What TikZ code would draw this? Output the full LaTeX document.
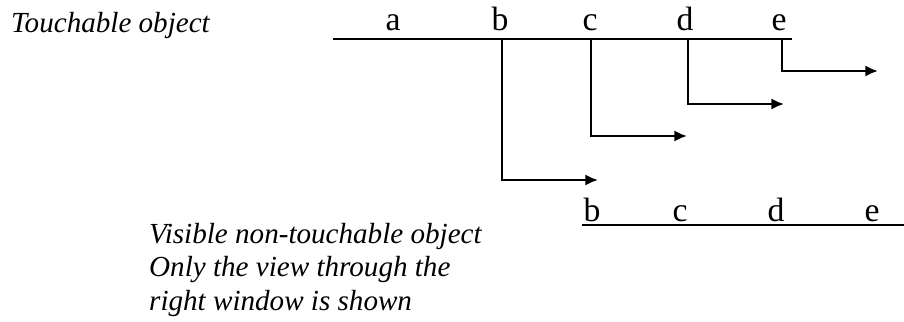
\documentclass[tikz,border=0pt]{standalone}
\usepackage{fontspec}
\setmainfont{Liberation Serif}
\usetikzlibrary{arrows.meta}

\begin{document}
\begin{tikzpicture}[x=0.025cm, y=-0.025cm, >={Latex[length=9pt, width=8pt]}, line width=1.7pt,
    every node/.style={font=\fontsize{24}{28}\selectfont, inner sep=0pt},
    caption/.style={font=\fontsize{20.7}{23.8}\selectfont\itshape}]
    \useasboundingbox (0,0) rectangle (904,322);
    % Beruehrbares Objekt oben
    \node[anchor=base west, caption] (touch) at (10,32) {Touchable object};
    \coordinate (tl) at (333,39);
    \coordinate (tr) at (792,39);
    \draw (tl) -- (tr);
    \foreach \n/\x in {a/393, b/500, c/590, d/685, e/779}
        \node[anchor=base] (t\n) at (\x,30) {\n};

    % Abzweigungen mit Pfeilen
    \foreach \n/\x/\y in {b/502/180, c/591/136, d/688/104, e/782/71} {
        \coordinate (s\n) at (\x,\y);
        \coordinate (h\n) at (\x+96,\y);
        \draw[->] (s\n |- tl) |- (h\n);
    }

    % Sichtbares Objekt unten
    \coordinate (bl) at (582,225);
    \coordinate (br) at (904,225);
    \draw (bl) -- (br);
    \foreach \n/\x in {b/592, c/680, d/776, e/872}
        \node[anchor=base] (u\n) at (\x,221) {\n};

    \node[anchor=base west, align=left, caption] (vis) at (148,310)
        {Visible non-touchable object\\Only the view through the\\right window is shown};
\end{tikzpicture}
\end{document}
